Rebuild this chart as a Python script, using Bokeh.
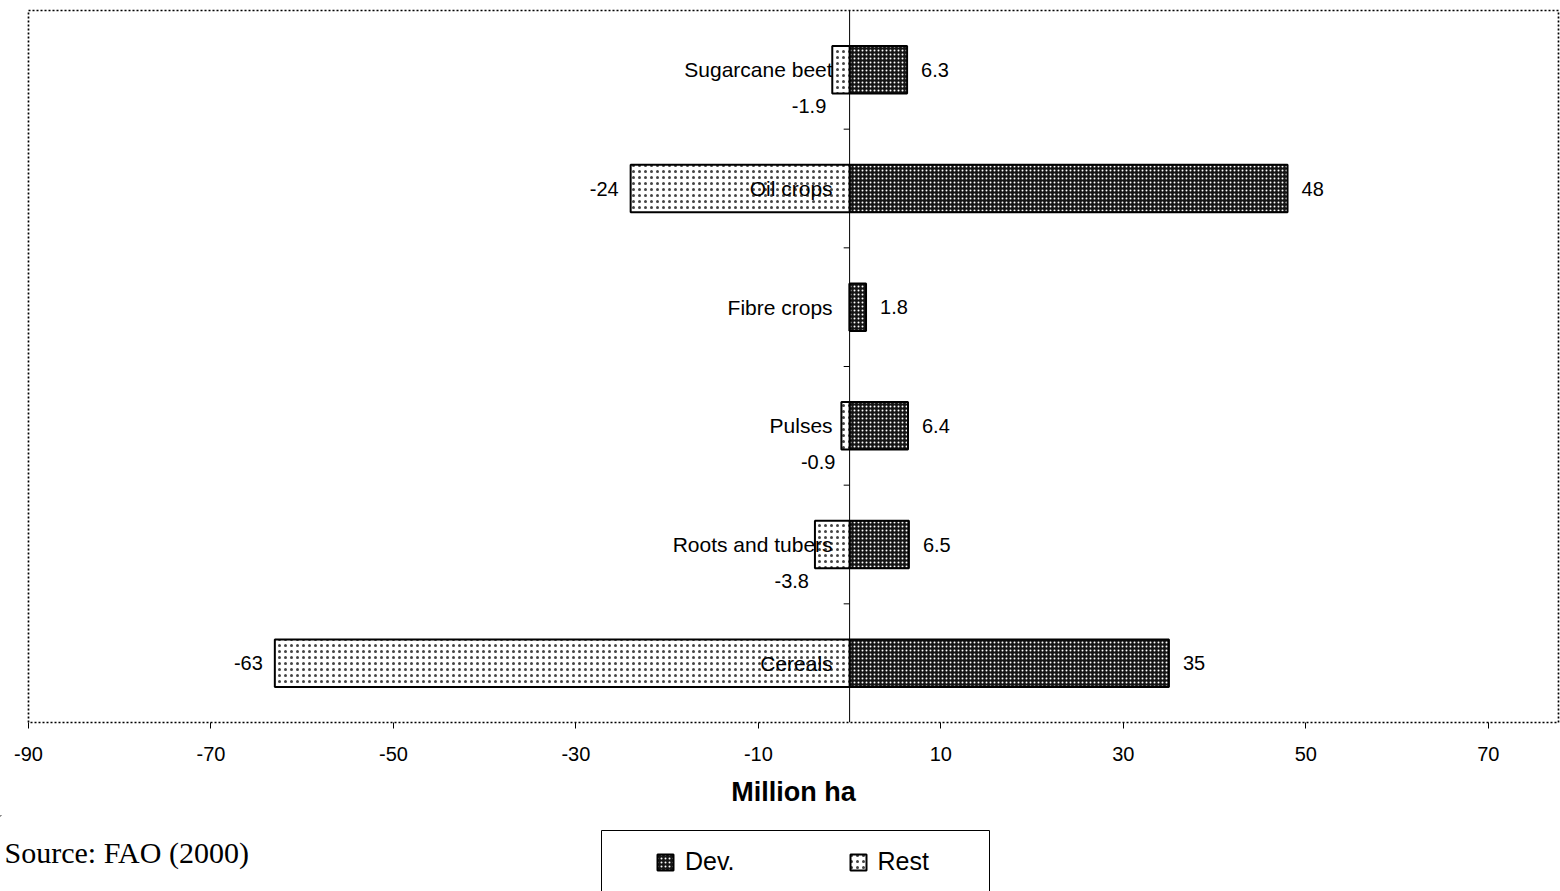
from bokeh.plotting import figure
from bokeh.models import (Range1d, Legend, LegendItem, Label, Span,
                          ColumnDataSource, FixedTicker, NumeralTickFormatter)
from bokeh.core.properties import value
from bokeh.embed import file_html
from bokeh.resources import INLINE

# Change in harvested area by crop group, million ha
categories = ["Cereals", "Roots and tubers", "Pulses", "Fibre crops",
              "Oil crops", "Sugarcane beet"]
dev = [35, 6.5, 6.4, 1.8, 48, 6.3]
rest = [-63, -3.8, -0.9, 0, -24, -1.9]
x_ticks = [-90, -70, -50, -30, -10, 10, 30, 50, 70]
series_names = ["Dev.", "Rest"]

SANS = "Liberation Sans"
SERIF = "Liberation Serif"

W = 1560
H_MAIN, H_FOOT = 815, 76

DEV_STYLE = dict(fill_color="#151515", line_color="black", line_width=2,
                 hatch_pattern="dot", hatch_color="white", hatch_scale=4,
                 hatch_weight=1.3)
REST_STYLE = dict(fill_color="white", line_color="black", line_width=2,
                  hatch_pattern="dot", hatch_color="#444444", hatch_scale=6,
                  hatch_weight=1.2)

p = figure(width=W, height=H_MAIN, output_backend="svg", toolbar_location=None,
           x_range=Range1d(-90, 77.7), y_range=Range1d(-0.5, len(categories) - 0.5),
           min_border_left=28, min_border_right=2, min_border_top=10,
           min_border_bottom=93)
p.grid.visible = False
p.yaxis.visible = False
p.outline_line_color = "black"
p.outline_line_dash = "2 2"
p.outline_line_width = 1.7

ys = list(range(len(categories)))
src = ColumnDataSource(dict(
    y=ys, dev=dev, rest=rest, cat=categories,
    dev_lbl=[f"{v:g}" for v in dev],
))

p.hbar(y="y", left=0, right="dev", height=0.4, source=src, **DEV_STYLE)
p.hbar(y="y", left="rest", right=0, height=0.4, source=src, **REST_STYLE)

# vertical zero line with category separators
p.add_layout(Span(location=0, dimension="height", line_color="black", line_width=1))
bounds = [y - 0.5 for y in ys[1:]]
p.segment(x0=[-0.65] * len(bounds), x1=[0] * len(bounds), y0=bounds, y1=bounds,
          line_color="black", line_width=1)

# category names, right-aligned against the zero line
p.text(x=0, y="y", text="cat", source=src, x_offset=-17, text_align="right",
       text_baseline="middle", text_font=value(SANS), text_font_size="21px",
       text_color="black")

# value labels
p.text(x="dev", y="y", text="dev_lbl", source=src, x_offset=14,
       text_align="left", text_baseline="middle", text_font=value(SANS),
       text_font_size="20px", text_color="black")

big = [(y, v) for y, v in zip(ys, rest) if v != 0 and abs(v) >= 5]
small = [(y, v) for y, v in zip(ys, rest) if v != 0 and abs(v) < 5]
p.text(x=[v for _, v in big], y=[y for y, _ in big],
       text=[f"{v:g}" for _, v in big], x_offset=-12, text_align="right",
       text_baseline="middle", text_font=value(SANS), text_font_size="20px",
       text_color="black")
p.text(x=[v for _, v in small], y=[y for y, _ in small],
       text=[f"{v:g}" for _, v in small], x_offset=-6, y_offset=36,
       text_align="right", text_baseline="middle", text_font=value(SANS),
       text_font_size="20px", text_color="black")

# x axis
ax = p.xaxis[0]
ax.ticker = FixedTicker(ticks=x_ticks)
ax.formatter = NumeralTickFormatter(format="0")
ax.axis_line_color = None
ax.major_tick_out = 6
ax.major_tick_in = 0
ax.major_tick_line_color = "black"
ax.minor_tick_line_color = None
ax.major_label_text_font = SANS
ax.major_label_text_font_size = "20px"
ax.major_label_text_color = "black"
ax.major_label_standoff = 18
ax.axis_label = "Million ha"
ax.axis_label_text_font = SANS
ax.axis_label_text_font_style = "bold"
ax.axis_label_text_font_size = "27px"
ax.axis_label_text_color = "black"
ax.axis_label_standoff = 13

# footer strip: legend box and source note, in pixel coordinates
f = figure(width=W, height=H_FOOT, output_backend="svg", toolbar_location=None,
           x_range=Range1d(0, W), y_range=Range1d(H_MAIN + H_FOOT, H_MAIN),
           min_border=0)
f.axis.visible = False
f.grid.visible = False
f.outline_line_color = None

f.quad(left=601, right=989, top=830, bottom=H_MAIN + H_FOOT + 5,
       fill_color="white", line_color="black", line_width=1)

# key samples, kept outside the visible strip
key_dev = f.hbar(y=[-500], left=[-500], right=[-499], height=1, **DEV_STYLE)
key_rest = f.hbar(y=[-500], left=[-500], right=[-499], height=1, **REST_STYLE)
legend = Legend(items=[LegendItem(label=series_names[0], renderers=[key_dev]),
                       LegendItem(label=series_names[1], renderers=[key_rest])],
                orientation="horizontal", location=(655, 15),
                glyph_width=20, glyph_height=20, label_standoff=10,
                spacing=113, padding=0, margin=0,
                label_text_font=SANS, label_text_font_size="25px",
                label_text_color="black",
                border_line_color=None, background_fill_alpha=0)
f.add_layout(legend)

f.add_layout(Label(x=4, y=852, text="Source: FAO (2000)", text_font=SERIF,
                   text_font_size="30px", text_baseline="middle",
                   text_color="black"))

open("out.html", "w").write(file_html([p, f], INLINE))
